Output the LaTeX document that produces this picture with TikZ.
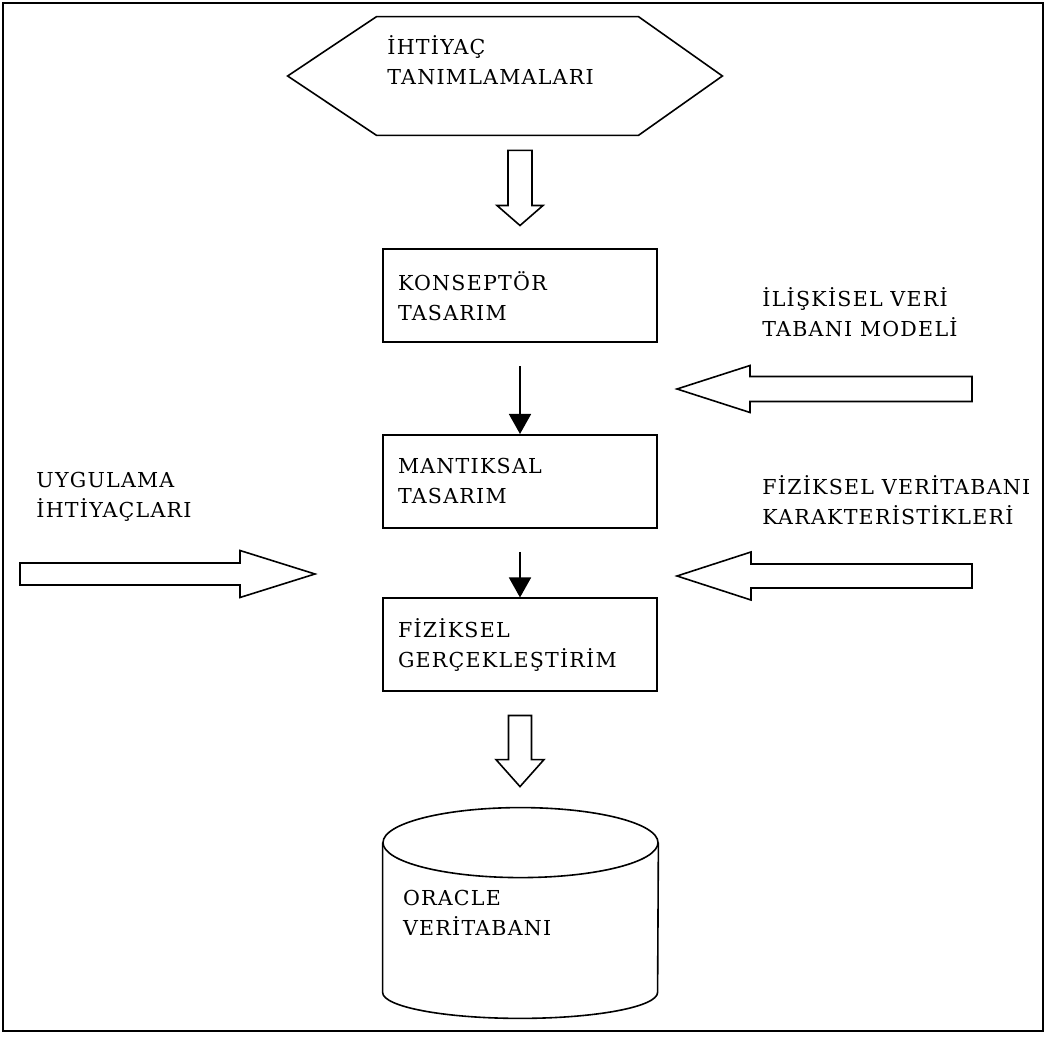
\documentclass[tikz,border=0pt]{standalone}
\usepackage{fontspec}
\setmainfont{DejaVu Serif}[LetterSpace=6]
\usetikzlibrary{calc,arrows.meta}

% hollow horizontal block arrow: tail, tip, shaft half width, head half width, head length
\newcommand\hblock[5]{%
  \draw[hollow] let \p1=(#1), \p2=(#2), \n1={sign(\x1-\x2)} in
    (\x1,{\y1+#3}) -- ({\x2+\n1*#5},{\y1+#3}) -- ({\x2+\n1*#5},{\y1+#4})
    -- (\x2,\y1) -- ({\x2+\n1*#5},{\y1-#4}) -- ({\x2+\n1*#5},{\y1-#3})
    -- (\x1,{\y1-#3}) -- cycle;}
% hollow downward block arrow: tail, tip, shaft half width, head half width, head length
\newcommand\vblock[5]{%
  \draw[hollow] let \p1=(#1), \p2=(#2) in
    ({\x1-#3},\y1) -- ({\x1-#3},{\y2+#5}) -- ({\x1-#4},{\y2+#5})
    -- (\x1,\y2) -- ({\x1+#4},{\y2+#5}) -- ({\x1+#3},{\y2+#5})
    -- ({\x1+#3},\y1) -- cycle;}

\begin{document}
\begin{tikzpicture}[x=0.5pt,y=-0.5pt,
  every node/.style={font=\fontsize{10.3}{15}\selectfont},
  stage/.style={draw, line width=1pt, inner xsep=7.5pt, text width=122pt,
    minimum height=46.5pt, align=left},
  caption/.style={align=left, inner sep=0pt, anchor=base west},
  hollow/.style={draw, line width=0.8pt, line join=miter},
  link/.style={line width=0.8pt, -{Triangle[length=10pt,width=11pt]}, shorten <=11.5pt},
]
\useasboundingbox (0,0) rectangle (1046,1037);
\draw[line width=1.3pt] (3,3) rectangle (1043,1031);

% requirements hexagon (caption anchors sit on the baseline of the last line)
\node[minimum width=217pt, minimum height=59pt, inner sep=0pt] (hex) at (505,76) {};
\draw[hollow] (hex.west) -- ($(hex.north west)+(89,0)$) -- ($(hex.north east)+(-84,0)$)
  -- (hex.east) -- ($(hex.south east)+(-84,0)$) -- ($(hex.south west)+(89,0)$) -- cycle;
\node[caption] (needs) at (387,85) {İHTİYAÇ\\TANIMLAMALARI};

% design stages
\node[stage] (kon) at (520,296) {KONSEPTÖR\\TASARIM};
\node[stage] (man) at (520,481.5) {MANTIKSAL\\TASARIM};
\node[stage] (fiz) at (520,645) {FİZİKSEL\\GERÇEKLEŞTİRİM};

% database cylinder
\node[minimum width=137.5pt, minimum height=105pt, inner xsep=10pt, text width=117.5pt,
  align=left] (cyl) at (520.5,913) {ORACLE\\VERİTABANI};
\draw[hollow] ($(cyl.north)+(0,35)$) ellipse [x radius=68.75pt, y radius=17.5pt];
\draw[hollow] ($(cyl.north west)+(0,35)$) -- ($(cyl.south west)+(0,-26)$)
  arc[start angle=180, end angle=360, x radius=68.75pt, y radius=13pt]
  -- ($(cyl.north east)+(0,35)$);

% side inputs
\node[caption] (rel) at (762,337) {İLİŞKİSEL VERİ\\TABANI MODELİ};
\node[caption] (phys) at (762,525) {FİZİKSEL VERİTABANI\\KARAKTERİSTİKLERİ};
\node[caption] (app) at (36,518) {UYGULAMA\\İHTİYAÇLARI};

\coordinate (relTail) at (972,389);
\coordinate (relTip) at (677,389);
\coordinate (physTail) at (972,576);
\coordinate (physTip) at (677,576);
\coordinate (appTail) at (20,574);
\coordinate (appTip) at (315,574);

% flow between stages
\vblock{$(hex.south -| kon.north)+(0,15)$}{$(kon.north)+(0,-23)$}{6pt}{11.5pt}{10pt}
\draw[link] (kon) -- (man);
\draw[link] (man) -- (fiz);
\vblock{$(fiz.south)+(0,23)$}{$(cyl.north)+(0,-21)$}{5.75pt}{12pt}{13.5pt}

% input arrows
\hblock{relTail}{relTip}{6.25pt}{11.75pt}{36.5pt}
\hblock{physTail}{physTip}{6pt}{12pt}{37pt}
\hblock{appTail}{appTip}{5.5pt}{11.75pt}{37.5pt}
\end{tikzpicture}
\end{document}
